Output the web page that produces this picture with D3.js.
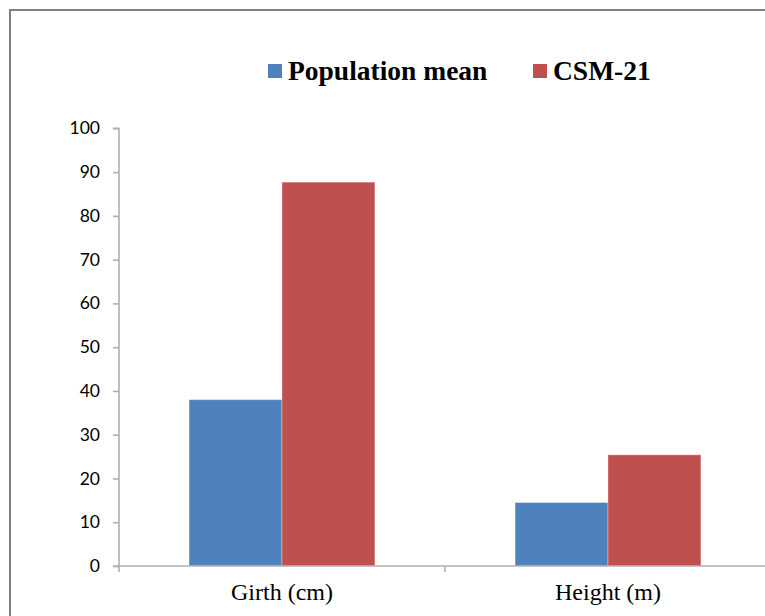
<!DOCTYPE html>
<html>
<head>
<meta charset="utf-8">
<script src="https://cdn.jsdelivr.net/npm/d3@7/dist/d3.min.js"></script>
<style>
  html, body { margin: 0; padding: 0; background: #fff; overflow: hidden; }
  svg { display: block; }
</style>
</head>
<body>
<svg id="chart" width="765" height="616"></svg>
<script>
// Trait categories and the two compared series
const categories = ["Girth (cm)", "Height (m)"];
const seriesNames = ["Population mean", "CSM-21"];
const populationMean = [38, 14.5];
const csm21 = [87.7, 25.4];
const yTicks = [0, 10, 20, 30, 40, 50, 60, 70, 80, 90, 100];
const colors = ["#4F81BD", "#C0504D"];

const svg = d3.select("#chart");

// outer frame (only the left and top edges fall inside the view)
svg.append("path")
  .attr("d", "M10,640 L10,10 L790,10")
  .attr("fill", "none")
  .attr("stroke", "#808080")
  .attr("stroke-width", 2);

const plotLeft = 119, plotRight = 771, plotTop = 128.3, plotBottom = 566;

const y = d3.scaleLinear().domain([0, 100]).range([plotBottom, plotTop]);

// category slots (axis ticks sit on slot boundaries)
const xSlot = d3.scaleBand().domain(categories).range([plotLeft, plotRight]).padding(0);
// cluster of bars inside each slot
const x0 = d3.scaleBand().domain(categories).range([plotLeft, plotRight])
  .paddingInner(0.43).paddingOuter(0.215);
const x1 = d3.scaleBand().domain(seriesNames).range([0, x0.bandwidth()]).padding(0);

const rows = categories.map((c, i) => ({
  cat: c,
  vals: [
    { s: seriesNames[0], v: populationMean[i] },
    { s: seriesNames[1], v: csm21[i] }
  ]
}));

// bars
const groups = svg.append("g").selectAll("g")
  .data(rows).join("g")
  .attr("transform", d => `translate(${x0(d.cat)},0)`);

groups.selectAll("rect")
  .data(d => d.vals).join("rect")
  .attr("x", d => x1(d.s))
  .attr("y", d => y(d.v))
  .attr("width", x1.bandwidth())
  .attr("height", d => y(0) - y(d.v))
  .attr("fill", (d, i) => colors[i])
  .attr("stroke", "rgba(255,255,255,0.35)")
  .attr("stroke-width", 1);

// y axis
const yAxis = d3.axisLeft(y).tickValues(yTicks).tickSize(6).tickPadding(13)
  .tickFormat(d3.format("d"));
const gy = svg.append("g")
  .attr("transform", `translate(${plotLeft},0)`)
  .call(yAxis);
gy.select(".domain").attr("stroke", "#b0b0b0").attr("stroke-width", 1.6)
  .attr("d", `M-6,${plotTop}H0V${plotBottom}`);
gy.selectAll(".tick line").attr("stroke", "#b0b0b0").attr("stroke-width", 1.6);
gy.selectAll(".tick text")
  .attr("font-family", "Lato, 'Open Sans', sans-serif")
  .attr("font-size", 17.5)
  .attr("fill", "#000");

// x axis line with boundary ticks
const gx = svg.append("g");
gx.append("line")
  .attr("x1", plotLeft - 6).attr("x2", plotRight)
  .attr("y1", plotBottom).attr("y2", plotBottom)
  .attr("stroke", "#b0b0b0").attr("stroke-width", 1.6);
const boundaries = categories.map(c => xSlot(c)).concat([plotRight]);
gx.selectAll("line.tk").data(boundaries).join("line")
  .attr("class", "tk")
  .attr("x1", d => d).attr("x2", d => d)
  .attr("y1", plotBottom).attr("y2", plotBottom + 6)
  .attr("stroke", "#b0b0b0").attr("stroke-width", 1.6);
gx.selectAll("text").data(categories).join("text")
  .attr("x", d => x0(d) + x0.bandwidth() / 2)
  .attr("y", 600)
  .attr("text-anchor", "middle")
  .attr("font-family", "'Liberation Serif', 'Times New Roman', serif")
  .attr("font-size", 24)
  .attr("fill", "#000")
  .text(d => d);

// legend
const legendX = [268, 533];
const legend = svg.append("g").selectAll("g")
  .data(seriesNames).join("g")
  .attr("transform", (d, i) => `translate(${legendX[i]},0)`);
legend.append("rect")
  .attr("x", 0).attr("y", 64).attr("width", 14).attr("height", 14)
  .attr("fill", (d, i) => colors[i]);
legend.append("text")
  .attr("x", 20).attr("y", 79.5)
  .attr("font-family", "'Liberation Serif', 'Times New Roman', serif")
  .attr("font-weight", "bold")
  .attr("font-size", 27.5)
  .attr("fill", "#000")
  .text(d => d);
</script>
</body>
</html>
